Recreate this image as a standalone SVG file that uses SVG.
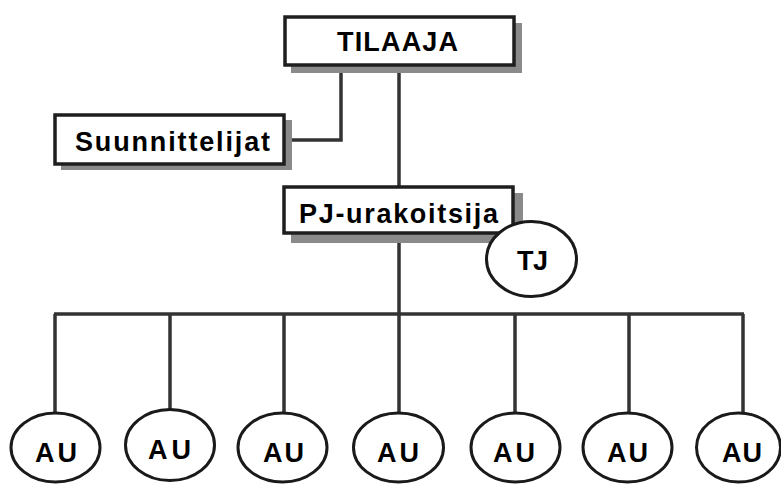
<svg xmlns="http://www.w3.org/2000/svg" width="781" height="484" viewBox="0 0 781 484">
  <style>
    .box { fill: #ffffff; stroke: #1e1e1e; stroke-width: 3.5; }
    .shadow { fill: #8a8a8a; }
    .oval { fill: #ffffff; stroke: #1a1a1a; stroke-width: 3; }
    .link { fill: none; stroke: #333333; stroke-width: 3.5; }
    .label { font-family: "Liberation Sans", Arial, sans-serif; font-weight: bold; font-size: 27px; fill: #000000; }
  </style>

  <!-- connectors -->
  <g id="connectors">
    <polyline class="link" points="341,66 341,140 286,140"/>
    <line class="link" x1="399" y1="66" x2="399" y2="187"/>
    <line class="link" x1="399" y1="233" x2="399" y2="314"/>
    <line class="link" x1="54" y1="314" x2="744" y2="314"/>
    <line class="link" x1="55" y1="314" x2="55" y2="413"/>
    <line class="link" x1="170" y1="314" x2="170" y2="410"/>
    <line class="link" x1="284" y1="314" x2="284" y2="413"/>
    <line class="link" x1="399" y1="314" x2="399" y2="413"/>
    <line class="link" x1="515" y1="314" x2="515" y2="413"/>
    <line class="link" x1="629" y1="314" x2="629" y2="413"/>
    <line class="link" x1="743" y1="314" x2="743" y2="413"/>
  </g>

  <g id="tilaaja">
    <rect class="shadow" x="291" y="23" width="231" height="50"/>
    <rect class="box" x="285" y="17" width="229" height="48"/>
    <text class="label" x="337" y="51" textLength="121" lengthAdjust="spacing">TILAAJA</text>
  </g>

  <g id="suunnittelijat">
    <rect class="shadow" x="61" y="120" width="231" height="50"/>
    <rect class="box" x="55" y="115" width="229" height="49"/>
    <text class="label" x="75" y="151" textLength="195" lengthAdjust="spacing">Suunnittelijat</text>
  </g>

  <g id="pj-urakoitsija">
    <rect class="shadow" x="291" y="193" width="232" height="50"/>
    <rect class="box" x="284" y="187" width="229" height="46"/>
    <text class="label" x="299" y="223" textLength="199" lengthAdjust="spacing">PJ-urakoitsija</text>
  </g>

  <g id="tj">
    <ellipse class="oval" cx="531.5" cy="259" rx="45" ry="37.5"/>
    <text class="label" x="517" y="270" textLength="31" lengthAdjust="spacing">TJ</text>
  </g>

  <g id="au1">
    <ellipse class="oval" cx="55.5" cy="447.5" rx="44.5" ry="34.5"/>
    <text class="label" x="35" y="462" textLength="42" lengthAdjust="spacing">AU</text>
  </g>
  <g id="au2">
    <ellipse class="oval" cx="170" cy="445" rx="44.5" ry="35.5"/>
    <text class="label" x="148" y="459" textLength="43" lengthAdjust="spacing">AU</text>
  </g>
  <g id="au3">
    <ellipse class="oval" cx="282.5" cy="447.5" rx="44.5" ry="34.5"/>
    <text class="label" x="263" y="462" textLength="41" lengthAdjust="spacing">AU</text>
  </g>
  <g id="au4">
    <ellipse class="oval" cx="398.5" cy="447.5" rx="45" ry="34.5"/>
    <text class="label" x="377" y="462" textLength="42" lengthAdjust="spacing">AU</text>
  </g>
  <g id="au5">
    <ellipse class="oval" cx="515.5" cy="447.5" rx="44.5" ry="34.5"/>
    <text class="label" x="493" y="462" textLength="42" lengthAdjust="spacing">AU</text>
  </g>
  <g id="au6">
    <ellipse class="oval" cx="627.5" cy="447.5" rx="44.5" ry="34.5"/>
    <text class="label" x="607" y="462" textLength="41" lengthAdjust="spacing">AU</text>
  </g>
  <g id="au7">
    <ellipse class="oval" cx="738.5" cy="447.5" rx="42" ry="34.5"/>
    <text class="label" x="722" y="462" textLength="40" lengthAdjust="spacing">AU</text>
  </g>
</svg>
